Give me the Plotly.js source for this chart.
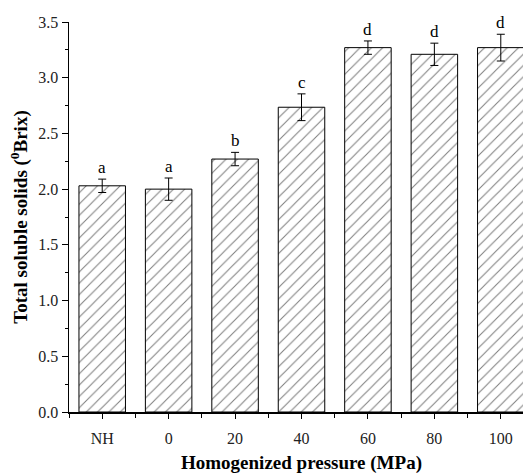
<!DOCTYPE html>
<html>
<head>
<meta charset="utf-8">
<script src="https://cdn.plot.ly/plotly-3.0.1.min.js"></script>
<style>
  html, body { margin: 0; padding: 0; overflow: hidden; width: 523px; height: 476px; background: #fff; }
  #chart { width: 540px; height: 476px; }
</style>
</head>
<body>
<div id="chart"></div>
<script>
const categories = ["NH", "0", "20", "40", "60", "80", "100"];
const values = [2.03, 2.00, 2.27, 2.735, 3.27, 3.21, 3.27];
const errors = [0.06, 0.10, 0.06, 0.12, 0.06, 0.10, 0.12];
const letters = ["a", "a", "b", "c", "d", "d", "d"];

const xpos = categories.map((_, i) => i);
const serif = "Liberation Serif, Times New Roman, serif";

const trace = {
  type: "bar",
  x: xpos,
  y: values,
  width: 0.7,
  marker: {
    color: "#ffffff",
    line: { color: "#000000", width: 1 },
    pattern: { shape: "/", size: 8, solidity: 0.13, fgcolor: "#000000", bgcolor: "#ffffff", fillmode: "overlay" }
  },
  error_y: { type: "data", array: errors, visible: true, color: "#000000", thickness: 1, width: 4 },
  hoverinfo: "skip"
};

const annotations = xpos.map((x, i) => ({
  x: x, y: values[i] + errors[i], xref: "x", yref: "y",
  text: letters[i], showarrow: false, yanchor: "bottom", yshift: 0,
  font: { family: serif, size: 17, color: "#000" }
}));

const layout = {
  width: 540, height: 476,
  margin: { l: 69, r: 6, t: 22, b: 64 },
  paper_bgcolor: "#fff", plot_bgcolor: "#fff",
  showlegend: false,
  font: { family: serif, color: "#000" },
  xaxis: {
    range: [-0.5, 6.5],
    tickvals: xpos, ticktext: categories,
    ticks: "outside", ticklen: 5, tickwidth: 1, tickcolor: "#000",
    minor: { tick0: 0.5, dtick: 1, ticks: "outside", ticklen: 4, tickwidth: 1, tickcolor: "#000" },
    showline: true, linecolor: "#000", linewidth: 1.5,
    showgrid: false, zeroline: false,
    ticklabelstandoff: 6,
    tickfont: { family: serif, size: 16, color: "#222" },
    title: { text: "<b>Homogenized pressure (MPa)</b>", font: { family: serif, size: 19, color: "#000" }, standoff: 10 }
  },
  yaxis: {
    range: [0, 3.5],
    tick0: 0, dtick: 0.5, tickformat: ".1f",
    ticks: "outside", ticklen: 6, tickwidth: 1, tickcolor: "#000",
    minor: { dtick: 0.25, ticks: "outside", ticklen: 3, tickwidth: 1, tickcolor: "#000" },
    showline: true, linecolor: "#000", linewidth: 1.5,
    showgrid: false, zeroline: false,
    tickfont: { family: serif, size: 16, color: "#222" },
    title: { text: "<b>Total soluble solids (<sup>0</sup>Brix)</b>", font: { family: serif, size: 19, color: "#000" }, standoff: 5 }
  },
  annotations: annotations
};

Plotly.newPlot("chart", [trace], layout, { displayModeBar: false, staticPlot: true });
</script>
</body>
</html>
